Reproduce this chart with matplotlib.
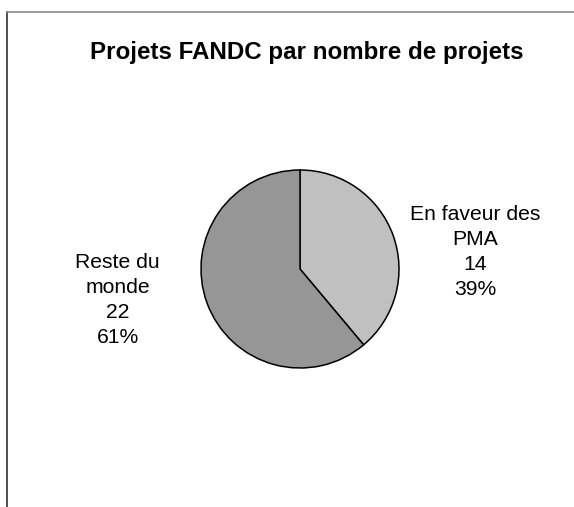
import matplotlib
matplotlib.use("Agg")
import matplotlib.pyplot as plt
from matplotlib.lines import Line2D

plt.rcParams['font.family'] = ['Liberation Sans', 'DejaVu Sans']

title = "Projets FANDC par nombre de projets"
categories = ["En faveur des\nPMA", "Reste du\nmonde"]
values = [14, 22]
colors = ["#C0C0C0", "#969696"]

W, H = 574, 507
fig = plt.figure(figsize=(W / 100, H / 100), dpi=100)
fig.patch.set_facecolor("white")

# frame (top and left edges visible)
fig.add_artist(Line2D([7 / W, 7 / W], [0, 1 - 12 / H], color="#333333", lw=1.2,
                      transform=fig.transFigure))
fig.add_artist(Line2D([7 / W, 1], [1 - 12 / H, 1 - 12 / H], color="#888888", lw=1.2,
                      transform=fig.transFigure))

# pie
cx, cy, r = 300, 269, 99
ax = fig.add_axes([(cx - r) / W, 1 - (cy + r) / H, 2 * r / W, 2 * r / H])
ax.pie(values, colors=colors, startangle=90, counterclock=False, radius=1,
       wedgeprops=dict(edgecolor="black", linewidth=1.1))
ax.set_xlim(-1.0, 1.0)
ax.set_ylim(-1.0, 1.0)
ax.set_aspect("auto")
ax.axis("off")

total = sum(values)
labels = [f"{c}\n{v}\n{round(100 * v / total)}%" for c, v in zip(categories, values)]
label_pos = [(475, 252), (117.5, 300)]
for lab, (x, y) in zip(labels, label_pos):
    fig.text(x / W, 1 - y / H, lab, ha="center", va="center", fontsize=15.2,
             linespacing=1.4, color="black", multialignment="center")

fig.text(306.5 / W, 1 - 59 / H, title, ha="center", va="baseline",
         fontsize=17.4, fontweight="bold", color="black")

fig.savefig("out.png", dpi=100, facecolor="white")
